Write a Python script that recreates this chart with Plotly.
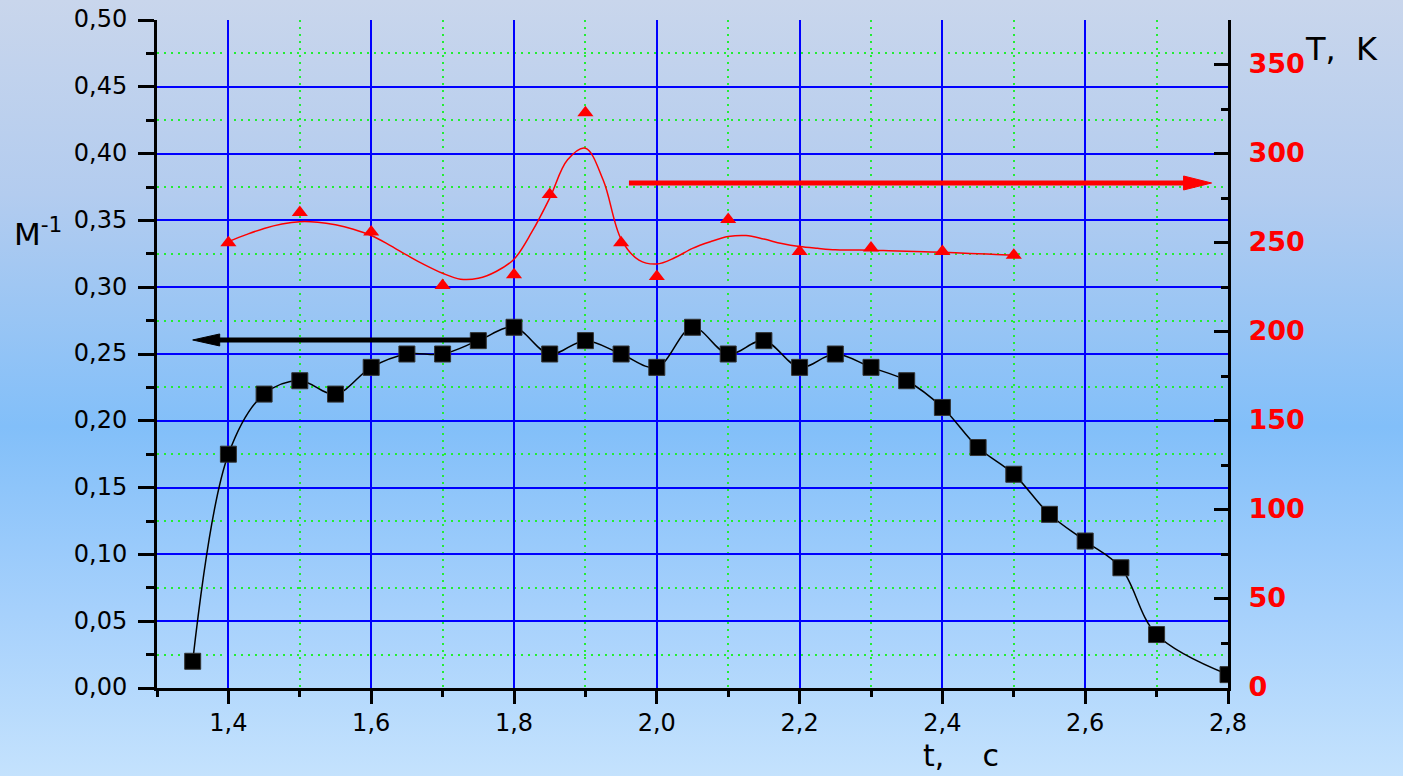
import base64
import plotly.graph_objects as go

# ---------------- data ----------------
t_m = [1.35, 1.40, 1.45, 1.50, 1.55, 1.60, 1.65, 1.70, 1.75, 1.80, 1.85, 1.90, 1.95,
       2.00, 2.05, 2.10, 2.15, 2.20, 2.25, 2.30, 2.35, 2.40, 2.45, 2.50, 2.55, 2.60,
       2.65, 2.70, 2.80]
m_inv = [0.02, 0.175, 0.22, 0.23, 0.22, 0.24, 0.25, 0.25, 0.26, 0.27, 0.25, 0.26, 0.25,
         0.24, 0.27, 0.25, 0.26, 0.24, 0.25, 0.24, 0.23, 0.21, 0.18, 0.16, 0.13, 0.11,
         0.09, 0.04, 0.01]

t_T = [1.40, 1.50, 1.60, 1.70, 1.80, 1.85, 1.90, 1.95, 2.00, 2.10, 2.20, 2.30, 2.40, 2.50]
T_K = [250, 267, 256, 226, 232, 277, 323, 250, 231, 263, 245, 247, 245, 243]

# smoothed fit curve of T(t), every 0.025 s
t_T_fit = [1.400, 1.425, 1.450, 1.475, 1.500, 1.525, 1.550, 1.575, 1.600, 1.625,
           1.650, 1.675, 1.700, 1.725, 1.750, 1.775, 1.800, 1.825, 1.850, 1.875,
           1.900, 1.925, 1.950, 1.975, 2.000, 2.025, 2.050, 2.075, 2.100, 2.125,
           2.150, 2.175, 2.200, 2.225, 2.250, 2.275, 2.300, 2.325, 2.350, 2.375,
           2.400, 2.425, 2.450, 2.475, 2.500]
T_K_fit = [250.6, 254.5, 258.0, 260.5, 261.8, 261.5, 260.0, 257.5, 254.0, 248.8,
           243.0, 237.5, 232.8, 229.5, 230.0, 233.8, 240.7, 256.0, 275.0, 296.5,
           303.0, 285.0, 252.0, 240.2, 238.0, 241.5, 246.8, 250.5, 253.4, 254.0,
           252.0, 249.5, 247.8, 246.8, 246.0, 245.9, 245.8, 245.5, 245.2, 244.9,
           244.6, 244.2, 243.8, 243.4, 243.0]

x_ticks = [1.4, 1.6, 1.8, 2.0, 2.2, 2.4, 2.6, 2.8]
x_labels = ["1,4", "1,6", "1,8", "2,0", "2,2", "2,4", "2,6", "2,8"]

# arrows (data coordinates): start, tip, level
black_arrow = dict(x0=1.74, x1=1.35, y=0.2605)
red_arrow = dict(x0=1.961, x1=2.777, y=283.5)

# ---------------- layout constants ----------------
FW, FH = 1403, 776
ML, MR, MT, MB = 157, 175, 20, 88
PW, PH = FW - ML - MR, FH - MT - MB
XR = [1.3, 2.8]
YR = [0, 0.5]
Y2R = [0, 375]
px_x = PW / (XR[1] - XR[0])
px_y = PH / (YR[1] - YR[0])
px_y2 = PH / (Y2R[1] - Y2R[0])

FONT = "DejaVu Sans, Liberation Sans, Arial, sans-serif"
GREEN = "#22ee33"

svg = (
    f'<svg xmlns="http://www.w3.org/2000/svg" width="{FW}" height="{FH}" '
    f'preserveAspectRatio="none" viewBox="0 0 {FW} {FH}">'
    '<defs><linearGradient id="g" x1="0" y1="0" x2="0" y2="1">'
    '<stop offset="0" stop-color="#c9d6ec"/>'
    '<stop offset="0.25" stop-color="#b3ccef"/>'
    '<stop offset="0.55" stop-color="#82bff9"/>'
    '<stop offset="0.78" stop-color="#a5d0fc"/>'
    '<stop offset="1" stop-color="#c4e2fd"/>'
    '</linearGradient></defs>'
    f'<rect x="0" y="0" width="{FW}" height="{FH}" fill="url(#g)"/></svg>'
)
bg_src = "data:image/svg+xml;base64," + base64.b64encode(svg.encode()).decode()

fig = go.Figure()

fig.add_trace(go.Scatter(
    x=t_m, y=m_inv, mode="lines+markers",
    line=dict(color="black", width=1.5, shape="spline", smoothing=1.0),
    marker=dict(symbol="square", size=16, color="black", line=dict(color="#333", width=1)),
    yaxis="y", showlegend=False, cliponaxis=True,
))
fig.add_trace(go.Scatter(
    x=t_T_fit, y=T_K_fit, mode="lines",
    line=dict(color="red", width=1.5, shape="spline", smoothing=1.0),
    yaxis="y2", showlegend=False,
))
fig.add_trace(go.Scatter(
    x=t_T, y=T_K, mode="markers",
    marker=dict(symbol="triangle-up", size=14, color="red"),
    yaxis="y2", showlegend=False,
))

shapes = []
# black arrow (left axis)
hl, hw = 27 / px_x, 6 / px_y
shapes.append(dict(type="line", xref="x", yref="y", x0=black_arrow["x0"], x1=black_arrow["x1"] + hl * 0.8,
                   y0=black_arrow["y"], y1=black_arrow["y"], line=dict(color="black", width=5)))
bx, by = black_arrow["x1"], black_arrow["y"]
shapes.append(dict(type="path", xref="x", yref="y",
                   path=f"M{bx},{by} L{bx + hl},{by + hw} L{bx + hl},{by - hw} Z",
                   fillcolor="black", line=dict(color="black", width=1)))
# red arrow (right axis)
hl2, hw2 = 28 / px_x, 7 / px_y2
shapes.append(dict(type="line", xref="x", yref="y2", x0=red_arrow["x0"], x1=red_arrow["x1"] - hl2 * 0.8,
                   y0=red_arrow["y"], y1=red_arrow["y"], line=dict(color="red", width=5)))
rx, ry = red_arrow["x1"], red_arrow["y"]
shapes.append(dict(type="path", xref="x", yref="y2",
                   path=f"M{rx},{ry} L{rx - hl2},{ry + hw2} L{rx - hl2},{ry - hw2} Z",
                   fillcolor="red", line=dict(color="red", width=1)))

NB = "\u00a0"
annotations = [
    dict(text="M<sup>-1</sup>", xref="paper", yref="paper",
         x=(12 - ML) / PW, y=(FH - MB - 232) / PH, xanchor="left", yanchor="middle",
         showarrow=False, font=dict(family=FONT, size=31, color="black")),
    dict(text=f"T,{NB}{NB}K", xref="paper", yref="paper",
         x=(1303 - ML) / PW, y=(FH - MB - 49) / PH, xanchor="left", yanchor="middle",
         showarrow=False, font=dict(family=FONT, size=32, color="black")),
    dict(text=f"t,{NB}{NB}{NB}{NB}c", xref="paper", yref="paper",
         x=(921 - ML) / PW, y=(FH - MB - 755) / PH, xanchor="left", yanchor="middle",
         showarrow=False, font=dict(family=FONT, size=30, color="black")),
]

fig.update_layout(
    width=FW, height=FH,
    autosize=False,
    margin=dict(l=ML, r=MR, t=MT, b=MB, autoexpand=False),
    paper_bgcolor="#a9cdf5",
    plot_bgcolor="rgba(0,0,0,0)",
    separators=",.",
    font=dict(family=FONT, color="black"),
    images=[dict(source=bg_src, xref="paper", yref="paper",
                 x=-ML / PW, y=1 + MT / PH, sizex=FW / PW, sizey=FH / PH,
                 xanchor="left", yanchor="top", sizing="stretch", layer="below")],
    shapes=shapes,
    annotations=annotations,
    xaxis=dict(
        range=XR, tickmode="array", tickvals=x_ticks, ticktext=x_labels, automargin=False,
        ticks="outside", ticklen=13, tickwidth=3, tickcolor="black",
        showline=True, linewidth=3, linecolor="black",
        showgrid=True, gridcolor="#0000ff", gridwidth=1.5,
        zeroline=False, tickfont=dict(size=24, family=FONT, color="black"),
        ticklabelstandoff=-2,
        minor=dict(tickmode="linear", tick0=1.3, dtick=0.1, ticks="outside", ticklen=6,
                   tickwidth=3, tickcolor="black", showgrid=True,
                   gridcolor=GREEN, gridwidth=1.5, griddash="2px,5px"),
    ),
    yaxis=dict(
        range=YR, dtick=0.05, tick0=0, tickformat=".2f", automargin=False,
        ticks="outside", ticklen=16, tickwidth=3, tickcolor="black",
        showline=True, linewidth=3, linecolor="black",
        showgrid=True, gridcolor="#0000ff", gridwidth=1.5,
        zeroline=False, tickfont=dict(size=24, family=FONT, color="black"),
        ticklabelstandoff=6, ticklabelshift=-1,
        minor=dict(tickmode="linear", tick0=0.025, dtick=0.05, ticks="outside", ticklen=8,
                   tickwidth=3, tickcolor="black", showgrid=True,
                   gridcolor=GREEN, gridwidth=1.5, griddash="2px,5px"),
    ),
    yaxis2=dict(
        range=Y2R, dtick=50, tick0=0, overlaying="y", side="right", automargin=False,
        ticks="inside", ticklen=14, tickwidth=3, tickcolor="black",
        showline=True, linewidth=3, linecolor="black",
        showgrid=False, zeroline=False,
        tickfont=dict(size=27, family=FONT, color="red", weight="bold"),
        ticklabelstandoff=12, ticklabelshift=-1,
        minor=dict(tickmode="linear", tick0=25, dtick=50, ticks="inside", ticklen=7,
                   tickwidth=3, tickcolor="black", showgrid=False),
    ),
)

fig.write_html(
    "out.html",
    config={"displayModeBar": False},
    post_script="document.body.style.margin='0';document.body.style.overflow='hidden';",
)
